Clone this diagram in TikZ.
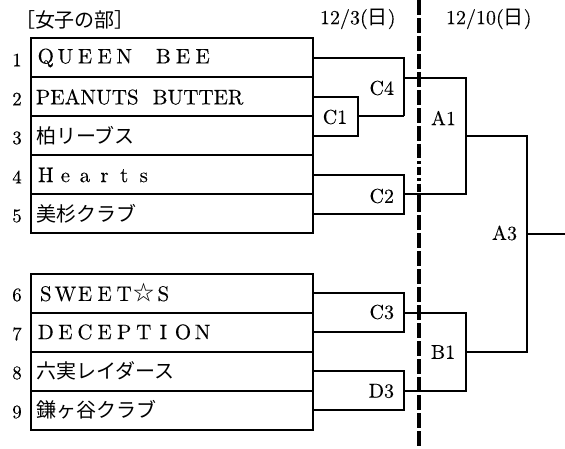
\documentclass[tikz,border=0pt]{standalone}
\usepackage{fontspec}
\setmainfont{lmroman10-regular}[Extension=.otf, FakeBold=0.2]
\newfontfamily\jp{Noto Sans CJK JP}
\newcommand\wstar{{\jp ☆}}
\newcommand\fw[1]{\fwloop#1\relax}
\def\fwloop#1{\ifx#1\relax\else\makebox[19.6pt]{#1}\expandafter\fwloop\fi}
\begin{document}
\begin{tikzpicture}[x=1pt,y=-1pt,line width=2pt,
  team/.style={draw, rectangle, anchor=west, minimum width=282pt, minimum height=39pt,
    inner xsep=5pt, inner ysep=0pt, text width=272pt, align=left, font=\fontsize{21}{24}\selectfont},
  num/.style={inner sep=0pt, font=\fontsize{19}{20}\selectfont},
  lab/.style={inner sep=0pt, font=\fontsize{20}{22}\selectfont},
  hdr/.style={inner sep=0pt, anchor=west, font=\fontsize{20}{22}\selectfont},
  div/.style={line width=3.2pt, dash pattern=on 15pt off 3pt},
  divdot/.style={line width=3.2pt, dash pattern=on 8pt off 3pt on 3pt off 3pt}]
\useasboundingbox (0,0) rectangle (565,449);

% header
\node[hdr] (h0) at (14,20) {\jp ［女子の部］};
\node[hdr] (h1) at (319,19) {12/3({\jp 日})};
\node[hdr] (h2) at (445,19) {12/10({\jp 日})};

% teams
\node[team] (t1) at (30,58) {\fw{QUEEN~BEE}};
\node[team] (t2) at (30,97) {PEANUTS~~BUTTER};
\node[team] (t3) at (30,136) {\jp\fontsize{20}{24}\selectfont 柏リーブス};
\node[team] (t4) at (30,175) {\fw{Hearts}};
\node[team] (t5) at (30,214) {\jp\fontsize{20}{24}\selectfont 美杉クラブ};
\node[team] (t6) at (30,293) {\fw{SWEET\wstar S}};
\node[team] (t7) at (30,332) {\fw{DECEPTION}};
\node[team] (t8) at (30,371) {\jp\fontsize{20}{24}\selectfont 六実レイダース};
\node[team] (t9) at (30,410) {\jp\fontsize{20}{24}\selectfont 鎌ヶ谷クラブ};

% numbers
\node[num] (n1) at (17,60) {1};
\node[num] (n2) at (17,99) {2};
\node[num] (n3) at (17,138) {3};
\node[num] (n4) at (17,177) {4};
\node[num] (n5) at (17,216) {5};
\node[num] (n6) at (17,295) {6};
\node[num] (n7) at (17,334) {7};
\node[num] (n8) at (17,373) {8};
\node[num] (n9) at (17,412) {9};

% bracket points
\coordinate (c1) at (358,116.5);
\coordinate (c1o) at (404,116.5);
\coordinate (c4) at (404,78);
\coordinate (a1t) at (466,78);
\coordinate (c2) at (404,194.5);
\coordinate (a1b) at (466,194.5);
\coordinate (a1) at (466,136);
\coordinate (a3t) at (527,136);
\coordinate (c3) at (404,312.5);
\coordinate (b1t) at (466,312.5);
\coordinate (d3) at (404,390.5);
\coordinate (b1b) at (466,390.5);
\coordinate (b1) at (466,351.5);
\coordinate (a3b) at (527,351.5);
\coordinate (a3) at (527,234);
\coordinate (fin) at (565,234);

% divider
\coordinate (dtop) at (419,0);
\coordinate (dm1) at (419,150);
\coordinate (dm2) at (419,197);
\coordinate (dbot) at (419,449);
\draw[div] (dtop) -- (dm1);
\draw[divdot] (dm1) -- (dm2);
\draw[div] (dm2) -- (dbot);

% bracket lines
\draw (t2.east) -| (c1) |- (t3.east);
\draw (c1) -- (c1o);
\draw (t1.east) -| (c1o);
\draw (t4.east) -| (c2) |- (t5.east);
\draw (c4) -- (a1t) -- (a1b) -- (c2);
\draw (a1) -- (a3t) -- (a3b) -- (b1);
\draw (t6.east) -| (c3) |- (t7.east);
\draw (t8.east) -| (d3) |- (t9.east);
\draw (c3) -- (b1t) -- (b1b) -- (d3);
\draw (a3) -- (fin);

% match labels
\node[lab] (lc1) at (335,117) {C1};
\node[lab, anchor=east] (lc4) at (395,88) {C4};
\node[lab, anchor=east] (lc2) at (395,196) {C2};
\node[lab, anchor=east] (lc3) at (395,312) {C3};
\node[lab, anchor=east] (ld3) at (395,391) {D3};
\node[lab, anchor=west] (la1) at (430,118) {A1};
\node[lab, anchor=west] (lb1) at (430,352) {B1};
\node[lab, anchor=east] (la3) at (518,233) {A3};
\end{tikzpicture}
\end{document}
